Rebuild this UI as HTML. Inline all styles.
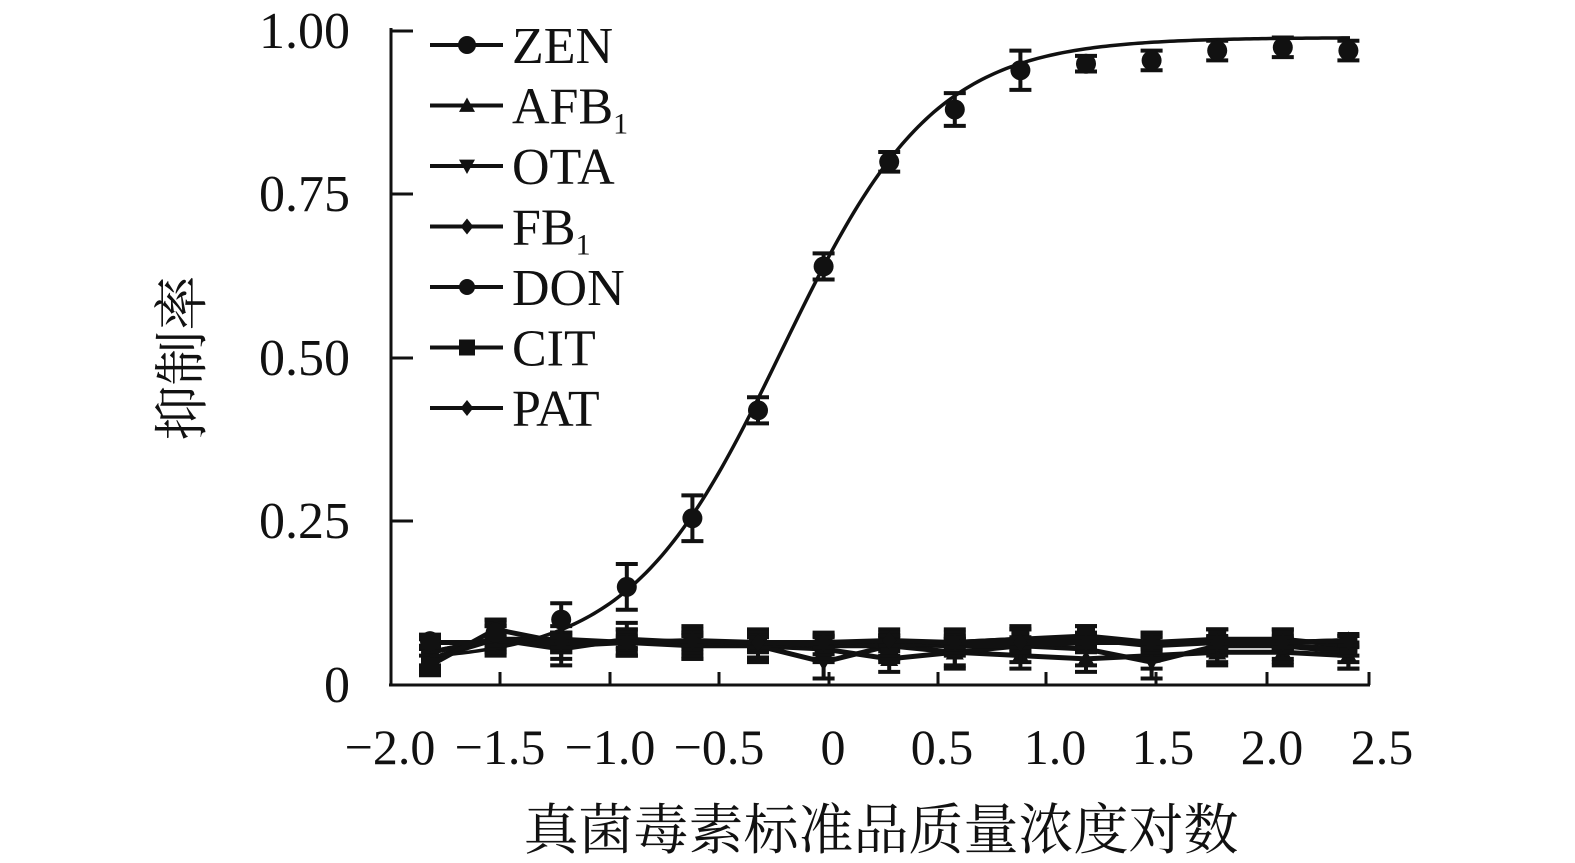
<!DOCTYPE html><html><head><meta charset="utf-8"><style>body{margin:0;background:#fff}svg{display:block}</style></head><body>
<svg id="s" width="1575" height="863" xmlns="http://www.w3.org/2000/svg" font-family="Liberation Serif, 'Noto Serif CJK SC', serif" fill="#111">
<g stroke="#111" stroke-width="3" fill="none">
<line x1="391" y1="28" x2="391" y2="686"/>
<line x1="389" y1="685" x2="1370" y2="685"/>
<line x1="391" y1="31" x2="413" y2="31"/><line x1="391" y1="194" x2="413" y2="194"/><line x1="391" y1="358" x2="413" y2="358"/><line x1="391" y1="521" x2="413" y2="521"/>
<line x1="500" y1="685" x2="500" y2="672"/><line x1="610" y1="685" x2="610" y2="672"/><line x1="719" y1="685" x2="719" y2="672"/><line x1="829" y1="685" x2="829" y2="672"/><line x1="938" y1="685" x2="938" y2="672"/><line x1="1046" y1="685" x2="1046" y2="672"/><line x1="1156" y1="685" x2="1156" y2="672"/><line x1="1267" y1="685" x2="1267" y2="672"/><line x1="1369" y1="685" x2="1369" y2="672"/>
</g>
<g font-size="52" text-anchor="end">
<text x="350" y="48">1.00</text><text x="350" y="211">0.75</text><text x="350" y="375">0.50</text><text x="350" y="538">0.25</text><text x="350" y="702">0</text>
</g>
<g font-size="50" text-anchor="middle">
<text x="390" y="764">−2.0</text><text x="500" y="764">−1.5</text><text x="610" y="764">−1.0</text><text x="719" y="764">−0.5</text><text x="833" y="764">0</text><text x="942" y="764">0.5</text><text x="1055" y="764">1.0</text><text x="1163" y="764">1.5</text><text x="1272" y="764">2.0</text><text x="1382" y="764">2.5</text>
<text x="881" y="849" font-size="55">真菌毒素标准品质量浓度对数</text>
</g>
<text font-size="55" text-anchor="middle" transform="translate(201,358) rotate(-90)">抑制率</text>
<g id="leg" font-size="52"></g>
<g id="plot"></g>
</svg>
<script>
const NS="http://www.w3.org/2000/svg";
function el(p,t,a,txt){const e=document.createElementNS(NS,t);for(const k in a)e.setAttribute(k,a[k]);if(txt)e.textContent=txt;p.appendChild(e);return e;}
const plot=document.getElementById('plot'),leg=document.getElementById('leg');
const Y=v=>685-v*654;
function marker(p,x,y,k,r){
 if(k=='c')el(p,'circle',{cx:x,cy:y,r:r});
 else if(k=='t')el(p,'polygon',{points:`${x},${y-r} ${x-r},${y+r*0.8} ${x+r},${y+r*0.8}`});
 else if(k=='v')el(p,'polygon',{points:`${x},${y+r} ${x-r},${y-r*0.8} ${x+r},${y-r*0.8}`});
 else if(k=='d')el(p,'polygon',{points:`${x},${y-r} ${x-r*0.8},${y} ${x},${y+r} ${x+r*0.8},${y}`});
 else if(k=='s')el(p,'rect',{x:x-r,y:y-r,width:2*r,height:2*r});
}
const names=[["ZEN","c"],["AFB","t","1"],["OTA","v"],["FB","d","1"],["DON","c"],["CIT","s"],["PAT","d"]];
names.forEach((n,i)=>{const y=45+i*60.5;
 el(leg,'line',{x1:430,y1:y,x2:503,y2:y,stroke:'#111','stroke-width':4});
 marker(leg,467,y,n[1],n[1]=='c'&&i==0?9:8);
 const t=el(leg,'text',{x:512,y:y+18},n[0]);
 if(n[2]){el(t,'tspan',{dy:10,'font-size':30},n[2]);}
});
const xs=[];for(let i=0;i<15;i++)xs.push(430+i*65.6);
const flat=[
 ["t",[0.04,0.07,0.06,0.065,0.06,0.06,0.055,0.04,0.05,0.045,0.04,0.045,0.05,0.05,0.045],0.02],
 ["v",[0.05,0.07,0.055,0.07,0.065,0.06,0.035,0.06,0.05,0.06,0.055,0.035,0.06,0.06,0.05],0.025],
 ["d",[0.065,0.065,0.065,0.065,0.065,0.065,0.065,0.062,0.06,0.06,0.065,0.065,0.065,0.065,0.068],0.01],
 ["c",[0.05,0.07,0.07,0.065,0.065,0.062,0.06,0.06,0.065,0.07,0.07,0.06,0.065,0.06,0.055],0.02],
 ["s",[0.03,0.085,0.065,0.065,0.065,0.065,0.062,0.06,0.065,0.07,0.075,0.065,0.07,0.07,0.06],0.015],
 ["d",[0.065,0.065,0.065,0.065,0.068,0.065,0.065,0.068,0.065,0.065,0.065,0.065,0.065,0.065,0.068],0.008]];
flat.forEach(f=>{let pts=xs.map((x,i)=>x+','+Y(f[1][i])).join(' ');
 el(plot,'polyline',{points:pts,fill:'none',stroke:'#111','stroke-width':5});
 xs.forEach((x,i)=>{const y=Y(f[1][i]),e=f[2]*654;
  el(plot,'path',{d:`M${x},${y-e}V${y+e}M${x-11},${y-e}h22M${x-11},${y+e}h22`,stroke:'#111','stroke-width':4,fill:'none'});
  marker(plot,x,y,f[0],9);});
});
let d='';for(let x=430;x<=1350;x+=4){const v=0.035+0.955/(1+Math.exp(-(x-782)/76));d+=(x==430?'M':'L')+x+','+Y(v);}
el(plot,'path',{d:d,fill:'none',stroke:'#111','stroke-width':3.5});
const zy=[0.067,0.08,0.1,0.15,0.255,0.42,0.64,0.8,0.88,0.94,0.95,0.955,0.97,0.975,0.97];
const ze=[0.01,0.02,0.025,0.035,0.035,0.02,0.02,0.015,0.025,0.03,0.012,0.015,0.015,0.015,0.015];
xs.forEach((x,i)=>{const y=Y(zy[i]),e=ze[i]*654;
 el(plot,'path',{d:`M${x},${y-e}V${y+e}M${x-11},${y-e}h22M${x-11},${y+e}h22`,stroke:'#111','stroke-width':4,fill:'none'});
 marker(plot,x,y,'c',10);});
</script>
</body></html>
